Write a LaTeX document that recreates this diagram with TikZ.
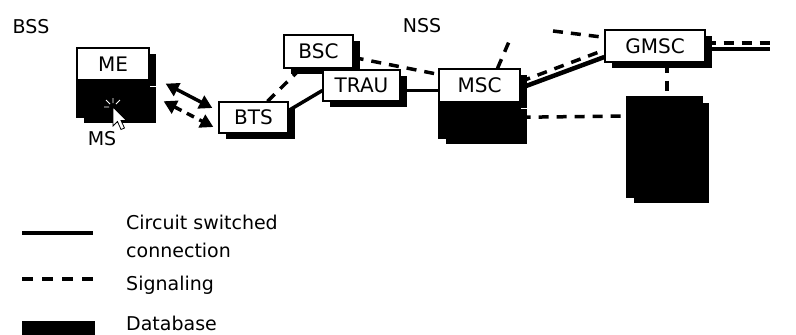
\documentclass[tikz,border=0pt]{standalone}
\usepackage{fontspec}
\setmainfont{DejaVu Sans}
\usetikzlibrary{arrows.meta,shadows,calc}
\pgfdeclarelayer{bg}
\pgfdeclarelayer{paper}
\pgfsetlayers{paper,bg,main}
\begin{document}
\begin{tikzpicture}[x=1pt,y=-1pt,
  shad/.style={drop shadow={shadow xshift=7pt,shadow yshift=-6pt,fill=black,opacity=1}},
  box/.style={shad,draw=black,line width=1.3pt,fill=white,inner sep=0pt,font=\fontsize{20}{22}\selectfont},
  dbbox/.style={shad,draw=black,line width=1.2pt,fill=black,inner sep=0pt},
  circ/.style={line width=3.5pt},
  sig/.style={line width=3.5pt,dash pattern=on 10pt off 8pt},
  lbl/.style={font=\fontsize{19}{28}\selectfont,inner sep=0pt},
  tip/.style={{Triangle[length=13pt,width=14pt]}-{Triangle[length=13pt,width=14pt]}}]
\useasboundingbox (0,0) rectangle (796,335);
\begin{pgfonlayer}{paper}
\fill[white] (0,0) rectangle (796,335);
\end{pgfonlayer}

% titles
\node[lbl] (bss) at (31,27) {BSS};
\node[lbl] (nss) at (422,26) {NSS};

% MS
\node[box,minimum width=72pt,minimum height=32pt] (ME) at (113,64) {ME};
\node[dbbox,minimum width=72pt,minimum height=36pt,anchor=north] (MSdb) at (ME.south) {};
\node[lbl] (MSl) at (102,139) {MS};
% cursor
\draw[fill=white,line width=0.8pt] (113,107) -- (113,126) -- (117.5,121.5) -- (121,129.5) -- (124.5,128) -- (121,120.5) -- (126.5,120.5) -- cycle;
\draw[white,line width=0.8pt] (110,104) -- (106,100) (113,103) -- (113,98) (116,104) -- (120,100) (109,107) -- (104,107);

% BSS boxes
\node[box,minimum width=69pt,minimum height=31pt] (BTS) at (253.5,117.5) {BTS};
\node[box,minimum width=69pt,minimum height=33pt] (BSC) at (318.5,51.5) {BSC};
\node[box,minimum width=77pt,minimum height=31pt] (TRAU) at (361.5,85.5) {TRAU};

% NSS boxes
\node[box,minimum width=81pt,minimum height=33pt] (MSC) at (479.5,85.5) {MSC};
\node[dbbox,minimum width=81pt,minimum height=35pt,anchor=north] (MSCdb) at (MSC.south) {};
\node[box,minimum width=100pt,minimum height=32pt] (GMSC) at (655,46) {GMSC};
\node[dbbox,minimum width=75pt,minimum height=100pt] (DB) at (664.5,147) {};

% free ends
\coordinate (mscup) at (511,37);
\coordinate (gin) at (553,31);
\coordinate (gout1) at (770,43);
\coordinate (gout2) at (770,49);

\begin{pgfonlayer}{bg}
\draw[tip,line width=3.5pt] ($(ME.south east)+(16,3)$) -- ($(BTS.west)+(-6,-9.5)$);
\draw[tip,line width=3.5pt,dash pattern=on 8pt off 6pt] ($(MSdb.east)+(14,2)$) -- ($(BTS.west)+(-5,9.5)$);
\draw[sig] ($(BTS.north)+(14,0)$) -- ($(BSC.south)+(-18,0)$);
\draw[circ] ($(BTS.east)+(0,-7)$) -- ($(TRAU.west)+(0,5)$);
\draw[sig] ($(BSC.east)+(0,6)$) -- ($(MSC.north west)+(0,6)$);
\draw[circ,line width=3pt] ($(TRAU.east)+(0,4.5)$) -- ($(MSC.west)+(0,4.5)$);
\draw[sig] ($(MSC.north)+(18,0)$) -- (mscup);
\draw[circ,line width=4.5pt] ($(MSC.east)+(0,2.5)$) -- ($(GMSC.west)+(0,11)$);
\draw[sig] ($(MSC.east)+(0,-4)$) -- ($(GMSC.west)+(0,4)$);
\draw[sig] (gin) -- ($(GMSC.north west)+(0,8)$);
\draw[sig] ($(GMSC.east)+(0,-3)$) -- (gout1);
\draw[circ] ($(GMSC.east)+(0,3)$) -- (gout2);
\draw[sig] ($(GMSC.south)+(12,0)$) -- ($(DB.north)+(2.5,0)$);
\draw[sig] ($(MSCdb.east)+(0,-3.5)$) -- ($(DB.west)+(0,-31)$);
\end{pgfonlayer}

% legend
\coordinate (l1a) at (22,233);
\coordinate (l1b) at (93,233);
\coordinate (l2a) at (22,279);
\coordinate (l2b) at (93,279);
\draw[circ,line width=4.5pt] (l1a) -- (l1b);
\draw[sig,dash pattern=on 11pt off 9pt] (l2a) -- (l2b);
\node[fill=black,minimum width=73pt,minimum height=16pt,inner sep=0pt] (ldb) at (58.5,329) {};
\node[lbl,anchor=west,align=left] (t1) at (126,236) {Circuit switched\\connection};
\node[lbl,anchor=west] (t2) at (126,285) {Signaling};
\node[lbl,anchor=west] (t3) at (126,323) {Database};
\end{tikzpicture}
\end{document}
